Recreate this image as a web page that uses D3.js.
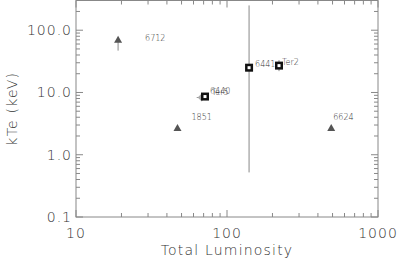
<!DOCTYPE html>
<html>
<head>
<meta charset="utf-8">
<script src="https://cdn.jsdelivr.net/npm/d3@7"></script>
<style>
  body { margin: 0; background: #fff; }
  svg { display: block; }
  text { font-family: "DejaVu Sans", sans-serif; fill: #333; font-weight: 200; }
</style>
</head>
<body>
<div id="chart"></div>
<script>
// cluster values
const triNames = ["6712", "1851", "6624"];
const triLum = [19, 47, 490];
const triKte = [70, 2.7, 2.7];
const triLo = [47, 2.5, 2.7];

const sqNames = ["6441", "Ter2", "6440"];
const sqLum = [140, 221, 71.5];
const sqKte = [25, 27, 8.6];
const sqLo = [0.52, 22, 8.6];
const sqHi = [250, 33, 8.6];

const grayNames = ["Ter5"];
const grayLum = [68];
const grayKte = [8.3];
const grayLumLo = [63];

const xTicks = [10, 100, 1000];
const yTicks = [0.1, 1, 10, 100];

const W = 397, H = 263;
const m = { left: 76, right: 19, top: 0, bottom: 46 };

const svg = d3.select("#chart").append("svg")
  .attr("width", W).attr("height", H);

const x = d3.scaleLog().domain([10, 1000]).range([m.left, W - m.right]);
const y = d3.scaleLog().domain([0.1, 300]).range([H - m.bottom, m.top + 0.5]);

const axisCol = "#888";
const g = svg.append("g");

// frame
g.append("rect")
  .attr("x", x(10)).attr("y", y(300))
  .attr("width", x(1000) - x(10)).attr("height", y(0.1) - y(300))
  .attr("fill", "none").attr("stroke", axisCol).attr("stroke-width", 1);

// minor + major ticks
const xMinor = [];
[10, 100].forEach(d => { for (let k = 1; k < 10; k++) xMinor.push(d * k); });
xMinor.push(1000);
const yMinor = [];
[0.1, 1, 10, 100].forEach(d => { for (let k = 1; k < 10; k++) if (d * k <= 300) yMinor.push(d * k); });

xMinor.forEach(v => {
  const len = xTicks.includes(v) ? 7 : 4;
  g.append("line").attr("x1", x(v)).attr("x2", x(v))
    .attr("y1", y(0.1)).attr("y2", y(0.1) - len).attr("stroke", axisCol);
  g.append("line").attr("x1", x(v)).attr("x2", x(v))
    .attr("y1", y(300)).attr("y2", y(300) + len).attr("stroke", axisCol);
});
yMinor.forEach(v => {
  const len = yTicks.includes(v) ? 7 : 4;
  g.append("line").attr("y1", y(v)).attr("y2", y(v))
    .attr("x1", x(10)).attr("x2", x(10) + len).attr("stroke", axisCol);
  g.append("line").attr("y1", y(v)).attr("y2", y(v))
    .attr("x1", x(1000)).attr("x2", x(1000) - len).attr("stroke", axisCol);
});

// tick labels
g.selectAll(".xt").data(xTicks).join("text")
  .attr("x", d => x(d)).attr("y", y(0.1) + 21)
  .attr("text-anchor", "middle").attr("font-size", 14)
  .attr("letter-spacing", 1)
  .text(d => d);
g.selectAll(".yt").data(yTicks).join("text")
  .attr("x", x(10) - 4).attr("y", d => y(d) + 5)
  .attr("text-anchor", "end").attr("font-size", 14)
  .attr("letter-spacing", 1)
  .text(d => d.toFixed(1));

// axis titles
svg.append("text").attr("x", (x(10) + x(1000)) / 2).attr("y", 255)
  .attr("text-anchor", "middle").attr("font-size", 14)
  .attr("letter-spacing", 1.2).text("Total Luminosity");
svg.append("text")
  .attr("transform", `translate(17,${(y(0.1) + y(300)) / 2}) rotate(-90)`)
  .attr("text-anchor", "middle").attr("font-size", 14)
  .attr("letter-spacing", 1.2).text("kTe (keV)");

// error bars
const ebCol = "#888";
triNames.forEach((n, i) => {
  g.append("line").attr("x1", x(triLum[i])).attr("x2", x(triLum[i]))
    .attr("y1", y(triKte[i])).attr("y2", y(triLo[i])).attr("stroke", ebCol);
});
sqNames.forEach((n, i) => {
  g.append("line").attr("x1", x(sqLum[i])).attr("x2", x(sqLum[i]))
    .attr("y1", y(sqHi[i])).attr("y2", y(sqLo[i])).attr("stroke", ebCol);
});
grayNames.forEach((n, i) => {
  g.append("line").attr("x1", x(grayLumLo[i])).attr("x2", x(grayLum[i]))
    .attr("y1", y(grayKte[i])).attr("y2", y(grayKte[i])).attr("stroke", "#999");
});

// gray point
grayNames.forEach((n, i) => {
  const cx = x(grayLum[i]), cy = y(grayKte[i]);
  g.append("path")
    .attr("d", `M${cx - 4},${cy} L${cx},${cy - 4} L${cx + 4},${cy} L${cx},${cy + 4} Z`)
    .attr("fill", "#aaa");
  g.append("text").attr("x", cx + 10).attr("y", cy - 3)
    .attr("font-size", 8).text(n);
});

// triangles
triNames.forEach((n, i) => {
  const cx = x(triLum[i]), cy = y(triKte[i]);
  g.append("path")
    .attr("d", `M${cx - 4},${cy + 3} L${cx},${cy - 4} L${cx + 4},${cy + 3} Z`)
    .attr("fill", "#555");
});
g.append("text").attr("x", x(triLum[0]) + 27).attr("y", y(triKte[0]) + 1)
  .attr("font-size", 8).text(triNames[0]);
g.append("text").attr("x", x(triLum[1]) + 14).attr("y", y(triKte[1]) - 8)
  .attr("font-size", 8).text(triNames[1]);
g.append("text").attr("x", x(triLum[2]) + 2).attr("y", y(triKte[2]) - 8)
  .attr("font-size", 8).text(triNames[2]);

// squares
sqNames.forEach((n, i) => {
  const cx = x(sqLum[i]), cy = y(sqKte[i]);
  g.append("rect").attr("x", cx - 4).attr("y", cy - 4)
    .attr("width", 8).attr("height", 8).attr("fill", "#111");
  g.append("rect").attr("x", cx - 1.5).attr("y", cy - 1.5)
    .attr("width", 3).attr("height", 3).attr("fill", "#fff");
});
g.append("text").attr("x", x(sqLum[0]) + 6).attr("y", y(sqKte[0]) - 1)
  .attr("font-size", 8).text(sqNames[0]);
g.append("text").attr("x", x(sqLum[1]) + 3).attr("y", y(sqKte[1]) - 1)
  .attr("font-size", 8).text(sqNames[1]);
g.append("text").attr("x", x(sqLum[2]) + 5).attr("y", y(sqKte[2]) - 3)
  .attr("font-size", 8).text(sqNames[2]);
</script>
</body>
</html>
